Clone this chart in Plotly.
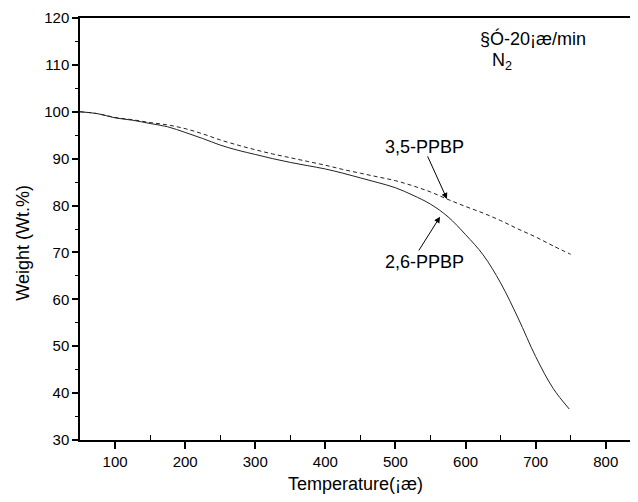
import plotly.graph_objects as go

# 2,6-PPBP (solid)
temp_26 = [50, 75, 100, 125, 150, 175, 200, 225, 250, 275, 300, 325, 350, 375, 400,
           425, 450, 475, 500, 525, 550, 575, 600, 625, 650, 675, 700, 725, 748]
wt_26 = [100.0, 99.6, 98.7, 98.2, 97.5, 96.8, 95.6, 94.3, 92.9, 91.8, 90.9, 90.0, 89.2,
         88.5, 87.8, 86.9, 85.9, 84.9, 83.8, 82.2, 80.3, 77.6, 73.8, 69.5, 63.5, 56.0,
         47.8, 41.0, 36.6]

# 3,5-PPBP (dashed)
temp_35 = [50, 75, 100, 125, 150, 175, 200, 225, 250, 275, 300, 325, 350, 375, 400,
           425, 450, 475, 500, 525, 550, 575, 600, 625, 650, 675, 700, 725, 750]
wt_35 = [100.0, 99.6, 98.8, 98.3, 97.7, 97.2, 96.4, 95.3, 94.0, 92.9, 91.9, 91.0, 90.2,
         89.4, 88.6, 87.7, 86.9, 86.1, 85.3, 84.2, 82.9, 81.3, 79.8, 78.4, 76.8, 75.0,
         73.3, 71.4, 69.6]

x_ticks = [100, 200, 300, 400, 500, 600, 700, 800]
y_ticks = [30, 40, 50, 60, 70, 80, 90, 100, 110, 120]

FONT = "Liberation Sans, Arial, sans-serif"

fig = go.Figure()
fig.add_trace(go.Scatter(x=temp_35, y=wt_35, mode="lines", name="3,5-PPBP",
                         line=dict(color="#222", width=1, dash="4px,3px", shape="spline")))
fig.add_trace(go.Scatter(x=temp_26, y=wt_26, mode="lines", name="2,6-PPBP",
                         line=dict(color="#222", width=1, shape="spline")))

ann_font = dict(family=FONT, size=18, color="black")
fig.add_annotation(x=617.8, y=115.7, text="§Ó-20¡æ/min", showarrow=False,
                   xanchor="left", yanchor="middle", font=ann_font)
fig.add_annotation(x=635, y=110.8, text="N<sub>2</sub>", showarrow=False,
                   xanchor="left", yanchor="middle", font=ann_font)

fig.add_annotation(x=542, y=92.5, text="3,5-PPBP", showarrow=False,
                   xanchor="center", yanchor="middle", font=ann_font)
fig.add_annotation(x=542, y=68.0, text="2,6-PPBP", showarrow=False,
                   xanchor="center", yanchor="middle", font=ann_font)

fig.add_annotation(x=573.5, y=81.4, ax=545, ay=90.8, axref="x", ayref="y",
                   text="", showarrow=True, arrowhead=2, arrowsize=1.2,
                   arrowwidth=1, arrowcolor="black")
fig.add_annotation(x=563.6, y=77.6, ax=532, ay=70.1, axref="x", ayref="y",
                   text="", showarrow=True, arrowhead=2, arrowsize=1.2,
                   arrowwidth=1, arrowcolor="black")

# axis titles
fig.add_annotation(x=0.5, y=-0.1043, xref="paper", yref="paper", text="Temperature(¡æ)",
                   showarrow=False, xanchor="center", yanchor="middle", font=ann_font)
fig.add_annotation(x=-0.104, y=0.467, xref="paper", yref="paper", text="Weight (Wt.%)",
                   showarrow=False, xanchor="center", yanchor="middle", textangle=-90,
                   font=ann_font)

# the page body adds an 8px offset; size the figure to fit the window without scrolling
fig.update_layout(
    width=622, height=486,
    margin=dict(l=72, r=0, t=10, b=54),
    paper_bgcolor="white", plot_bgcolor="white",
    showlegend=False,
    font=dict(family=FONT, size=15, color="black"),
)
fig.update_xaxes(
    range=[50, 834.6], tickvals=x_ticks, ticktext=[str(v) for v in x_ticks],
    showgrid=False, zeroline=False, automargin=False,
    showline=True, linecolor="black", linewidth=1.5, mirror=True,
    ticks="outside", ticklen=7, tickwidth=1.5, tickcolor="black",
    minor=dict(tickvals=[150, 250, 350, 450, 550, 650, 750], ticks="inside",
               ticklen=5, tickwidth=1, tickcolor="black"),
    tickfont=dict(size=15),
)
fig.update_yaxes(
    range=[30, 120], tickvals=y_ticks, ticktext=[str(v) for v in y_ticks],
    showgrid=False, zeroline=False, automargin=False,
    showline=True, linecolor="black", linewidth=1.5,
    ticks="outside", ticklen=6, tickwidth=1.5, tickcolor="black",
    minor=dict(tickvals=[35, 45, 55, 65, 75, 85, 95, 105, 115], ticks="outside",
               ticklen=3, tickwidth=1, tickcolor="black"),
    tickfont=dict(size=15),
)

fig.write_html("out.html")
